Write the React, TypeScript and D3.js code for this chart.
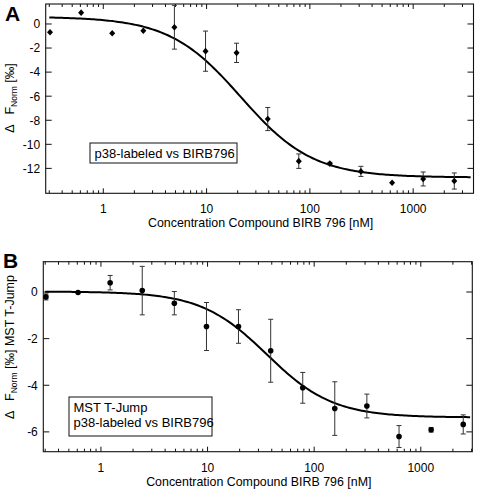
import React from 'react';
import * as d3 from 'd3';

// ---- data ----
const concentrations = [0.305, 0.61, 1.22, 2.44, 4.88, 9.77, 19.5, 39.1, 78.1, 156, 312, 625, 1250, 2500];

const valuesA = [-0.69, 0.94, -0.77, -0.56, -0.27, -2.26, -2.4, -7.9, -11.4, -11.6, -12.25, -13.19, -12.88, -13.05];
const errorsA = [0, 0, 0, 0, 1.82, 1.67, 0.8, 0.96, 0.6, 0.1, 0.42, 0, 0.58, 0.67];

const valuesB = [-0.21, -0.02, 0.4, 0.06, -0.48, -1.48, -1.48, -2.52, -4.11, -5.0, -4.89, -6.2, -5.91, -5.68];
const errorsB = [0.13, 0, 0.31, 1.04, 0.5, 1.03, 0.72, 1.35, 0.66, 1.15, 0.51, 0.47, 0.1, 0.41];

// dose-response fit parameters
const fitA = { top: 0.6, bottom: -12.75, ec50: 21.5, hill: 1.25, from: 0.3, to: 3600 };
const fitB = { top: 0.02, bottom: -5.38, ec50: 36, hill: 1.4, from: 0.3, to: 2900 };

const yTicksA = [0, -2, -4, -6, -8, -10, -12];
const yTicksB = [0, -2, -4, -6];
const xTickValues = [1, 10, 100, 1000];
const xTickLabels = ['1', '10', '100', '1000'];

const xTitle = 'Concentration Compound BIRB 796 [nM]';
const legendA = ['p38-labeled vs BIRB796'];
const legendB = ['MST T-Jump', 'p38-labeled vs BIRB796'];

const FONT = '"Liberation Sans", Arial, Helvetica, sans-serif';

type Fit = { top: number; bottom: number; ec50: number; hill: number; from: number; to: number };

interface PanelProps {
  letter: string;
  letterY: number;
  box: { x0: number; x1: number; y0: number; y1: number };
  xDomain: [number, number];
  yDomain: [number, number];
  values: number[];
  errors: number[];
  fit: Fit;
  yTicks: number[];
  marker: 'diamond' | 'circle';
  legend: string[];
  legendBox: { x: number; y: number; w: number; h: number };
  yLabelExtra: string;
  yLabelCenter: number;
}

function Panel(p: PanelProps) {
  const { box } = p;
  const x = d3.scaleLog().domain(p.xDomain).range([box.x0, box.x1]);
  const y = d3.scaleLinear().domain(p.yDomain).range([box.y1, box.y0]);

  // minor + major x ticks
  const ticks: { v: number; major: boolean }[] = [];
  for (let d = -1; d <= 3; d++) {
    for (let k = 1; k <= 9; k++) {
      const v = k * Math.pow(10, d);
      if (v >= p.xDomain[0] && v <= p.xDomain[1]) ticks.push({ v, major: k === 1 });
    }
  }

  const fitFn = (c: number) => p.fit.bottom + (p.fit.top - p.fit.bottom) / (1 + Math.pow(c / p.fit.ec50, p.fit.hill));
  const samples = d3.range(0, 201).map((i) => {
    const lc = Math.log10(p.fit.from) + (i / 200) * (Math.log10(p.fit.to) - Math.log10(p.fit.from));
    const c = Math.pow(10, lc);
    return [c, fitFn(c)] as [number, number];
  });
  const line = d3.line<[number, number]>().x((d) => x(d[0])).y((d) => y(d[1]));

  const cy = p.yLabelCenter;
  return (
    <g>
      <text x={p.letter === 'A' ? 5 : 3} y={p.letterY} fontFamily={FONT} fontWeight="bold" fontSize={21}>
        {p.letter}
      </text>
      {/* frame */}
      <rect x={box.x0} y={box.y0} width={box.x1 - box.x0} height={box.y1 - box.y0} fill="none" stroke="#111" strokeWidth={1.1} />
      {/* x ticks bottom + top */}
      {ticks.map((t, i) => (
        <g key={i}>
          <line x1={x(t.v)} x2={x(t.v)} y1={box.y1} y2={box.y1 - (t.major ? 5 : 3)} stroke="#111" strokeWidth={1} />
          <line x1={x(t.v)} x2={x(t.v)} y1={box.y0} y2={box.y0 + (t.major ? 5 : 3)} stroke="#111" strokeWidth={1} />
        </g>
      ))}
      {xTickValues.map((v, i) => (
        <text key={i} x={x(v)} y={box.y1 + 20} textAnchor="middle" fontFamily={FONT} fontSize={12}>
          {xTickLabels[i]}
        </text>
      ))}
      <text x={(box.x0 + box.x1) / 2 + 1} y={box.y1 + 34} textAnchor="middle" fontFamily={FONT} fontSize={12.4}>
        {xTitle}
      </text>
      {/* y ticks */}
      {p.yTicks.map((v, i) => (
        <g key={i}>
          <line x1={box.x0} x2={box.x0 + 6} y1={y(v)} y2={y(v)} stroke="#111" strokeWidth={1} />
          <line x1={box.x1} x2={box.x1 - 6} y1={y(v)} y2={y(v)} stroke="#111" strokeWidth={1} />
          <text x={box.x0 - 5.5} y={y(v)} dy="0.36em" textAnchor="end" fontFamily={FONT} fontSize={12}>
            {v}
          </text>
        </g>
      ))}
      {/* y label */}
      <text
        transform={`translate(13.5,${cy}) rotate(-90)`}
        textAnchor="middle"
        fontFamily={FONT}
        fontSize={12.5}
        style={{ whiteSpace: 'pre' }}
      >
        <tspan>{'\u0394   F'}</tspan>
        <tspan fontSize={8.5} dy={3}>Norm</tspan>
        <tspan dy={-3}>{' [\u2030]' + p.yLabelExtra}</tspan>
      </text>
      {/* legend */}
      <rect x={p.legendBox.x} y={p.legendBox.y} width={p.legendBox.w} height={p.legendBox.h} fill="white" stroke="#111" strokeWidth={1} />
      {p.legend.map((s, i) => (
        <text key={i} x={p.legendBox.x + 4.5} y={p.legendBox.y + 14.5 + i * 15} fontFamily={FONT} fontSize={13}>
          {s}
        </text>
      ))}
      {/* fit curve */}
      <path d={line(samples) || ''} fill="none" stroke="#000" strokeWidth={2} />
      {/* error bars */}
      {concentrations.map((c, i) =>
        p.errors[i] > 0 ? (
          <g key={i} stroke="#333" strokeWidth={1}>
            <line x1={x(c)} x2={x(c)} y1={y(p.values[i] - p.errors[i])} y2={y(p.values[i] + p.errors[i])} />
            <line x1={x(c) - 2.5} x2={x(c) + 2.5} y1={y(p.values[i] - p.errors[i])} y2={y(p.values[i] - p.errors[i])} />
            <line x1={x(c) - 2.5} x2={x(c) + 2.5} y1={y(p.values[i] + p.errors[i])} y2={y(p.values[i] + p.errors[i])} />
          </g>
        ) : null
      )}
      {/* markers */}
      {concentrations.map((c, i) =>
        p.marker === 'diamond' ? (
          <path
            key={i}
            d={`M${x(c)},${y(p.values[i]) - 3.3}L${x(c) + 3},${y(p.values[i])}L${x(c)},${y(p.values[i]) + 3.3}L${x(c) - 3},${y(p.values[i])}Z`}
            fill="#000"
          />
        ) : (
          <circle key={i} cx={x(c)} cy={y(p.values[i])} r={2.8} fill="#000" />
        )
      )}
    </g>
  );
}

export default function App() {
  return (
    <svg width={478} height={492} style={{ position: 'absolute', left: 0, top: 0, background: 'white' }}>
      <Panel
        letter="A"
        letterY={21}
        box={{ x0: 45.7, x1: 473.5, y0: 4, y1: 193.3 }}
        xDomain={[0.277, 3837]}
        yDomain={[-14.07, 1.66]}
        values={valuesA}
        errors={errorsA}
        fit={fitA}
        yTicks={yTicksA}
        marker="diamond"
        legend={legendA}
        legendBox={{ x: 90, y: 143, w: 147, h: 20 }}
        yLabelExtra=""
        yLabelCenter={98}
      />
      <Panel
        letter="B"
        letterY={268}
        box={{ x0: 43.3, x1: 472.3, y0: 261.7, y1: 451.7 }}
        xDomain={[0.288, 3041]}
        yDomain={[-6.85, 1.3]}
        values={valuesB}
        errors={errorsB}
        fit={fitB}
        yTicks={yTicksB}
        marker="circle"
        legend={legendB}
        legendBox={{ x: 69, y: 397, w: 143, h: 39 }}
        yLabelExtra=" MST T-Jump"
        yLabelCenter={347}
      />
    </svg>
  );
}
